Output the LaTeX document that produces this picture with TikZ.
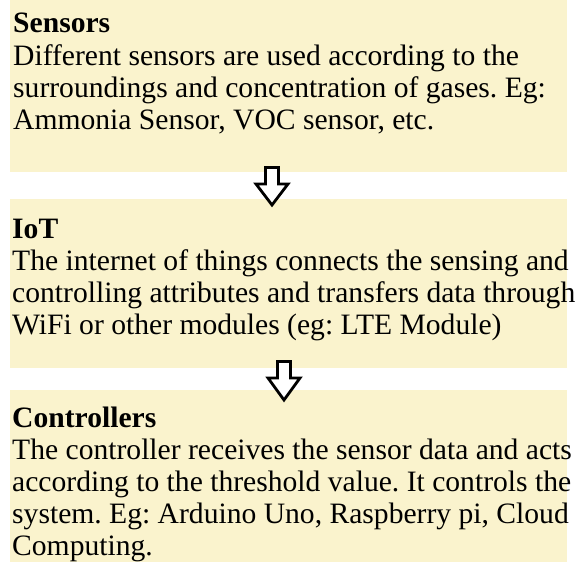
\documentclass[tikz,border=0pt]{standalone}
\usepackage{fontspec}
\setmainfont{Liberation Serif}
\frenchspacing
\definecolor{boxfill}{RGB}{250,243,205}
\begin{document}
\begin{tikzpicture}[x=1pt,y=1pt,
  infobox/.style={fill=boxfill,draw=none},
  txt/.style={anchor=base west,inner sep=0pt,font=\fontsize{29.6}{32}\selectfont},
  ttl/.style={txt,font=\fontsize{29.6}{32}\selectfont\bfseries},
  hollowarrow/.style={draw=black,fill=white,line width=2.8pt,line join=miter}]
\useasboundingbox (0,0) rectangle (579,562);
\fill[white] (0,0) rectangle (579,562);
% boxes
\path[infobox] (10,390) rectangle (567,562);
\path[infobox] (10,194) rectangle (567,363);
\path[infobox] (10,0) rectangle (567,172);
% box 1 text
\node[ttl] (t1) at (13,529) {Sensors};
\node[txt] (b1a) at (13,496) {Different sensors are used according to the};
\node[txt] (b1b) at (13,464) {surroundings and concentration of gases. Eg:};
\node[txt] (b1c) at (13,432) {Ammonia Sensor, VOC sensor, etc.};
% box 2 text
\node[ttl] (t2) at (12,323) {IoT};
\node[txt] (b2a) at (12,291) {The internet of things connects the sensing and};
\node[txt] (b2b) at (12,259) {controlling attributes and transfers data through};
\node[txt] (b2c) at (12,227) {WiFi or other modules (eg: LTE Module)};
% box 3 text
\node[ttl] (t3) at (12,134) {Controllers};
\node[txt] (b3a) at (12,102) {The controller receives the sensor data and acts};
\node[txt] (b3b) at (12,70) {according to the threshold value. It controls the};
\node[txt] (b3c) at (12,38) {system. Eg: Arduino Uno, Raspberry pi, Cloud};
\node[txt] (b3d) at (12,6) {Computing.};
% arrows
\coordinate (a1) at (272,394.5);
\draw[hollowarrow] (a1) ++(-6.5,0) -- ++(0,-16.5) -- ++(-9.5,0) -- ++(16,-21) -- ++(16,21) -- ++(-9.5,0) -- ++(0,16.5) -- cycle;
\coordinate (a2) at (284,200.5);
\draw[hollowarrow] (a2) ++(-6.5,0) -- ++(0,-16.5) -- ++(-9.5,0) -- ++(16,-22) -- ++(16,22) -- ++(-9.5,0) -- ++(0,16.5) -- cycle;
\end{tikzpicture}
\end{document}
